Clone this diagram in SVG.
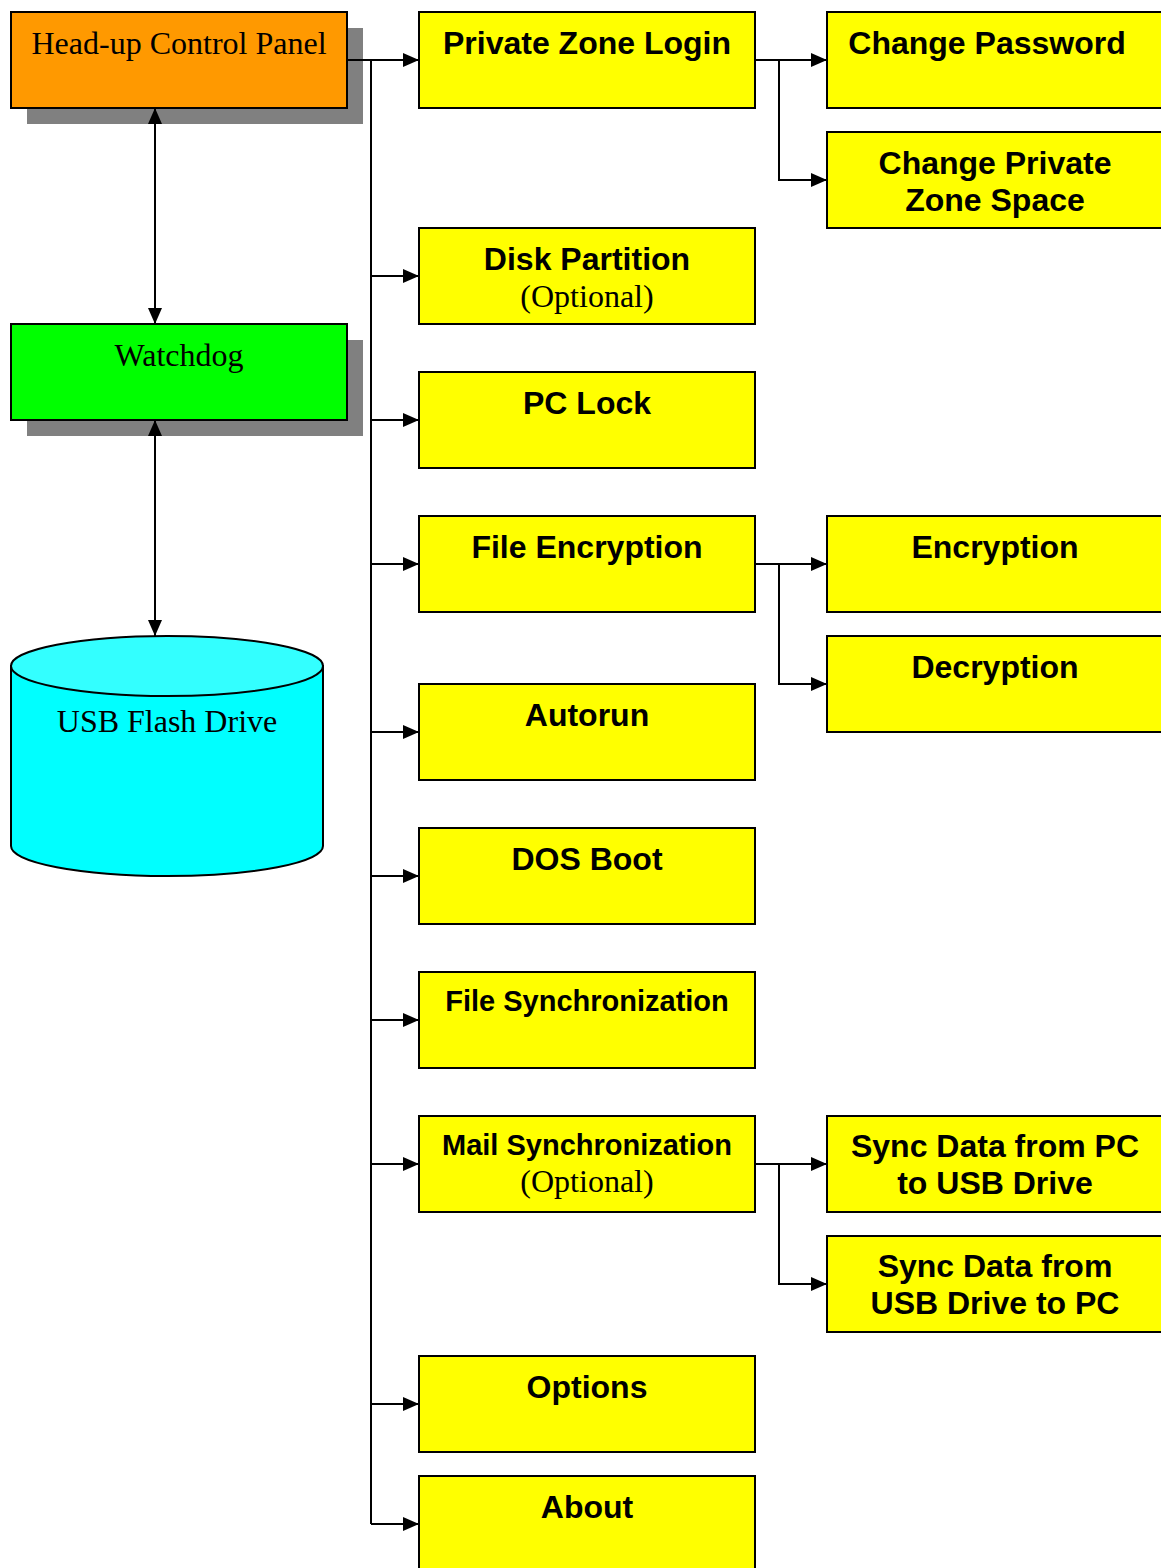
<svg xmlns="http://www.w3.org/2000/svg" width="1161" height="1568" viewBox="0 0 1161 1568">
<style>
.box{fill:#FFFF00;stroke:#000;stroke-width:2}
.shadow{fill:#808080}
.b{font-family:"Liberation Sans",Arial,sans-serif;font-weight:bold;font-size:32px;text-anchor:middle;fill:#000}
.bs{font-family:"Liberation Sans",Arial,sans-serif;font-weight:bold;font-size:29px;text-anchor:middle;fill:#000}
.s{font-family:"Liberation Serif","Times New Roman",serif;font-size:32px;text-anchor:middle;fill:#000}
.ln{fill:none;stroke:#000;stroke-width:2}
</style>
<defs>
<marker id="ar" markerUnits="userSpaceOnUse" markerWidth="16" markerHeight="16" viewBox="0 0 16 16" refX="16" refY="8" orient="auto-start-reverse">
<path d="M0,1 L16,8 L0,15 Z" fill="#000"/>
</marker>
</defs>
<g id="headup">
<rect class="shadow" x="27" y="28" width="336" height="96"/>
<rect x="11" y="12" width="336" height="96" fill="#FF9900" stroke="#000" stroke-width="2"/>
<text class="s" x="179" y="54">Head-up Control Panel</text>
</g>
<g id="watchdog">
<rect class="shadow" x="27" y="340" width="336" height="96"/>
<rect x="11" y="324" width="336" height="96" fill="#00FF00" stroke="#000" stroke-width="2"/>
<text class="s" x="179" y="366">Watchdog</text>
</g>
<g id="usb">
<path d="M11,666 V846 A156,30 0 0 0 323,846 V666 Z" fill="#00FFFF" stroke="#000" stroke-width="2"/>
<ellipse cx="167" cy="666" rx="156" ry="30" fill="#33FFFF" stroke="#000" stroke-width="2"/>
<text class="s" x="167" y="732">USB Flash Drive</text>
</g>
<g id="pzlogin"><rect class="box" x="419" y="12" width="336" height="96"/><text class="b" x="587" y="54">Private Zone Login</text></g>
<g id="chgpw"><rect class="box" x="827" y="12" width="336" height="96"/><text class="b" x="987" y="54">Change Password</text></g>
<g id="chgspace"><rect class="box" x="827" y="132" width="336" height="96"/><text class="b" x="995" y="174">Change Private</text><text class="b" x="995" y="211">Zone Space</text></g>
<g id="diskpart"><rect class="box" x="419" y="228" width="336" height="96"/><text class="b" x="587" y="270">Disk Partition</text><text class="s" x="587" y="307">(Optional)</text></g>
<g id="pclock"><rect class="box" x="419" y="372" width="336" height="96"/><text class="b" x="587" y="414">PC Lock</text></g>
<g id="fileenc"><rect class="box" x="419" y="516" width="336" height="96"/><text class="b" x="587" y="558">File Encryption</text></g>
<g id="enc"><rect class="box" x="827" y="516" width="336" height="96"/><text class="b" x="995" y="558">Encryption</text></g>
<g id="dec"><rect class="box" x="827" y="636" width="336" height="96"/><text class="b" x="995" y="678">Decryption</text></g>
<g id="autorun"><rect class="box" x="419" y="684" width="336" height="96"/><text class="b" x="587" y="726">Autorun</text></g>
<g id="dosboot"><rect class="box" x="419" y="828" width="336" height="96"/><text class="b" x="587" y="870">DOS Boot</text></g>
<g id="filesync"><rect class="box" x="419" y="972" width="336" height="96"/><text class="bs" x="587" y="1011">File Synchronization</text></g>
<g id="mailsync"><rect class="box" x="419" y="1116" width="336" height="96"/><text class="bs" x="587" y="1155">Mail Synchronization</text><text class="s" x="587" y="1192">(Optional)</text></g>
<g id="pc2usb"><rect class="box" x="827" y="1116" width="336" height="96"/><text class="b" x="995" y="1157">Sync Data from PC</text><text class="b" x="995" y="1194">to USB Drive</text></g>
<g id="usb2pc"><rect class="box" x="827" y="1236" width="336" height="96"/><text class="b" x="995" y="1277">Sync Data from</text><text class="b" x="995" y="1314">USB Drive to PC</text></g>
<g id="options"><rect class="box" x="419" y="1356" width="336" height="96"/><text class="b" x="587" y="1398">Options</text></g>
<g id="about"><rect class="box" x="419" y="1476" width="336" height="96"/><text class="b" x="587" y="1518">About</text></g>
<g id="connectors">
<path class="ln" d="M347,60 H419" marker-end="url(#ar)"/>
<path class="ln" d="M371,60 V1524"/>
<path class="ln" d="M371,276 H419" marker-end="url(#ar)"/>
<path class="ln" d="M371,420 H419" marker-end="url(#ar)"/>
<path class="ln" d="M371,564 H419" marker-end="url(#ar)"/>
<path class="ln" d="M371,732 H419" marker-end="url(#ar)"/>
<path class="ln" d="M371,876 H419" marker-end="url(#ar)"/>
<path class="ln" d="M371,1020 H419" marker-end="url(#ar)"/>
<path class="ln" d="M371,1164 H419" marker-end="url(#ar)"/>
<path class="ln" d="M371,1404 H419" marker-end="url(#ar)"/>
<path class="ln" d="M371,1524 H419" marker-end="url(#ar)"/>
<path class="ln" d="M755,60 H827" marker-end="url(#ar)"/>
<path class="ln" d="M779,60 V180 H827" marker-end="url(#ar)"/>
<path class="ln" d="M755,564 H827" marker-end="url(#ar)"/>
<path class="ln" d="M779,564 V684 H827" marker-end="url(#ar)"/>
<path class="ln" d="M755,1164 H827" marker-end="url(#ar)"/>
<path class="ln" d="M779,1164 V1284 H827" marker-end="url(#ar)"/>
<path class="ln" d="M155,108 V324" marker-start="url(#ar)" marker-end="url(#ar)"/>
<path class="ln" d="M155,420 V636" marker-start="url(#ar)" marker-end="url(#ar)"/>
</g>
</svg>
